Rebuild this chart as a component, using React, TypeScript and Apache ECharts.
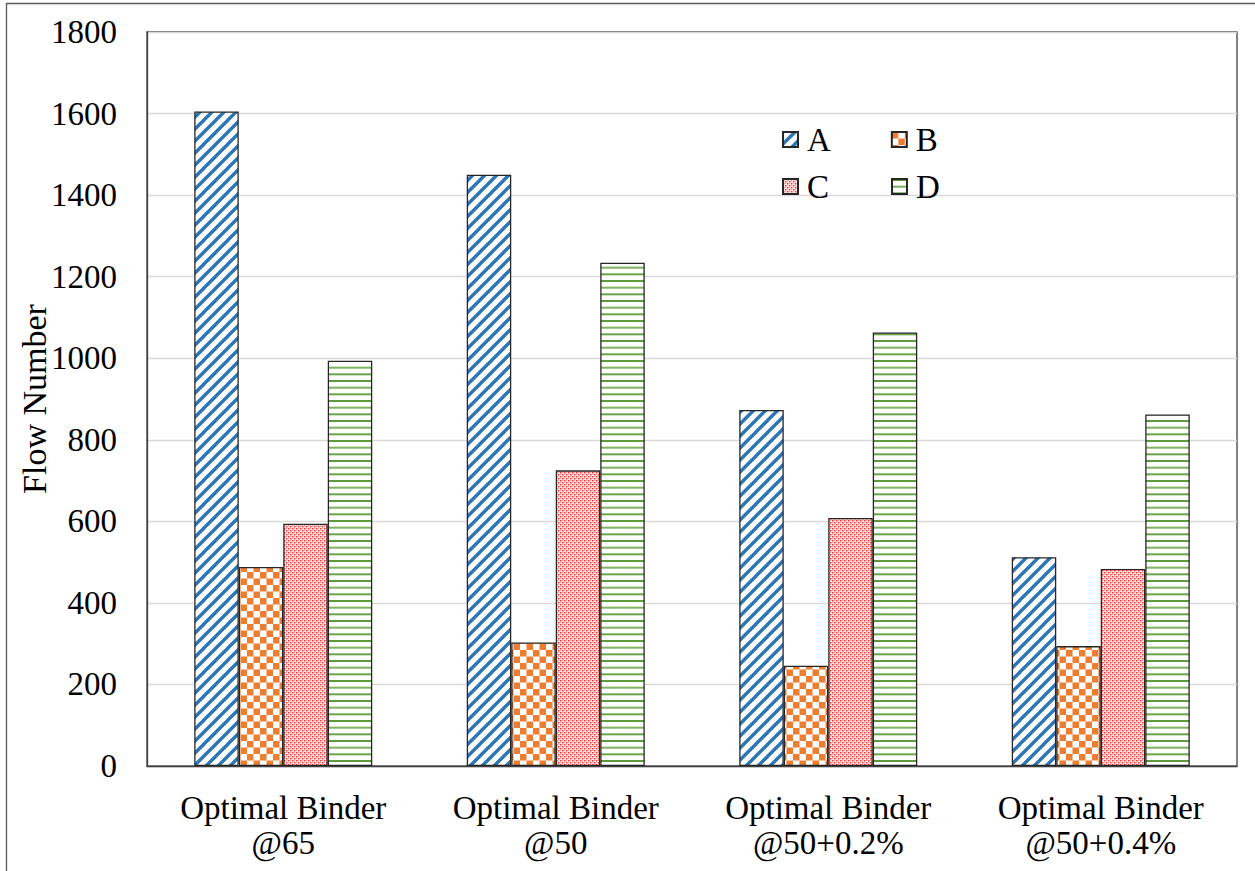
import React, { useEffect, useRef } from 'react';
import * as echarts from 'echarts';

const categories = [
  'Optimal Binder\n@65',
  'Optimal Binder\n@50',
  'Optimal Binder\n@50+0.2%',
  'Optimal Binder\n@50+0.4%',
];
const seriesNames = ['A', 'B', 'C', 'D'];
const valuesA = [1605, 1450, 873, 512];
const valuesB = [488, 303, 246, 294];
const valuesC = [594, 725, 608, 483];
const valuesD = [994, 1234, 1063, 862];
const yMin = 0;
const yMax = 1800;
const yInterval = 200;
const yAxisName = 'Flow Number';

const FONT = "'Liberation Serif', 'Times New Roman', serif";
const FS = 33;

function makeTile(w: number, h: number, draw: (ctx: CanvasRenderingContext2D) => void) {
  const c = document.createElement('canvas');
  c.width = w;
  c.height = h;
  const ctx = c.getContext('2d') as CanvasRenderingContext2D;
  draw(ctx);
  return { image: c.toDataURL(), repeat: 'repeat', imageWidth: w, imageHeight: h } as any;
}

function buildPatterns() {
  const diag = makeTile(12, 12, (ctx) => {
    ctx.fillStyle = '#ffffff';
    ctx.fillRect(0, 0, 12, 12);
    ctx.strokeStyle = '#2E75B6';
    ctx.lineWidth = 3.4;
    for (const k of [-12, 0, 12]) {
      ctx.beginPath();
      ctx.moveTo(k - 2, 12 + 2);
      ctx.lineTo(k + 12 + 2, -2);
      ctx.stroke();
    }
  });
  const checker = makeTile(13, 13, (ctx) => {
    ctx.fillStyle = '#ffffff';
    ctx.fillRect(0, 0, 13, 13);
    ctx.fillStyle = '#ED7D31';
    ctx.fillRect(0, 0, 6.5, 6.5);
    ctx.fillRect(6.5, 6.5, 6.5, 6.5);
  });
  const dots = makeTile(4, 4, (ctx) => {
    ctx.fillStyle = '#fde6e6';
    ctx.fillRect(0, 0, 4, 4);
    ctx.fillStyle = '#ff2a2a';
    ctx.fillRect(0, 0, 1.4, 1.4);
    ctx.fillRect(2, 2, 1.4, 1.4);
    ctx.fillStyle = '#ffa8a8';
    ctx.fillRect(2, 0, 1, 1);
    ctx.fillRect(0, 2, 1, 1);
  });
  const hlines = makeTile(4, 20, (ctx) => {
    ctx.fillStyle = '#ffffff';
    ctx.fillRect(0, 0, 4, 20);
    ctx.fillStyle = '#5f9a3c';
    ctx.fillRect(0, 0, 4, 2);
    ctx.fillStyle = '#7fb15e';
    ctx.fillRect(0, 6.67, 4, 2);
    ctx.fillStyle = '#6aa348';
    ctx.fillRect(0, 13.33, 4, 2);
  });
  return [diag, checker, dots, hlines];
}

export default function App() {
  const ref = useRef<HTMLDivElement>(null);
  useEffect(() => {
    if (!ref.current) return;
    const chart = echarts.init(ref.current, null, { renderer: 'svg' });
    const patterns = buildPatterns();
    const values = [valuesA, valuesB, valuesC, valuesD];
    const legendCommon = {
      orient: 'horizontal',
      itemWidth: 15,
      itemHeight: 15,
      icon: 'rect',
      textStyle: { fontFamily: FONT, fontSize: FS, color: '#000', padding: [0, 0, 0, 4] },
      padding: 0,
    };
    chart.setOption({
      animation: false,
      backgroundColor: '#ffffff',
      textStyle: { fontFamily: FONT },
      graphic: [
        {
          type: 'rect',
          shape: { x: 6.5, y: 3.5, width: 1300, height: 1000 },
          style: { fill: 'none', stroke: '#595959', lineWidth: 1.3 },
          silent: true,
        },
      ],
      legend: [
        { ...legendCommon, itemGap: 60, data: [seriesNames[0], seriesNames[1]], left: 782, top: 123 },
        { ...legendCommon, itemGap: 62, data: [seriesNames[2], seriesNames[3]], left: 782, top: 170 },
      ],
      grid: {
        left: 147,
        top: 32,
        right: 18,
        bottom: 105,
        show: true,
        borderColor: '#404040',
        borderWidth: 1.3,
        containLabel: false,
        outerBoundsMode: 'none',
      },
      xAxis: {
        type: 'category',
        data: categories,
        axisLine: { show: true, lineStyle: { color: '#404040', width: 1.3 } },
        axisTick: { show: false },
        axisLabel: {
          fontFamily: FONT,
          fontSize: FS,
          color: '#000',
          lineHeight: 35,
          margin: 24,
          interval: 0,
        },
      },
      yAxis: {
        type: 'value',
        min: yMin,
        max: yMax,
        interval: yInterval,
        name: yAxisName,
        nameLocation: 'middle',
        nameGap: 96,
        nameMoveOverlap: false,
        nameTextStyle: { fontFamily: FONT, fontSize: 34, color: '#000' },
        axisLine: { show: true, lineStyle: { color: '#404040', width: 1.3 } },
        axisTick: { show: false },
        axisLabel: {
          fontFamily: FONT,
          fontSize: FS,
          color: '#000',
          margin: 30,
          formatter: (v: number) => String(v),
        },
        splitLine: { show: true, lineStyle: { color: '#d9d9d9', width: 1.3 } },
      },
      series: seriesNames.map((name, i) => ({
        name,
        type: 'bar',
        data: values[i],
        barWidth: 44.5,
        barGap: '0%',
        itemStyle: {
          color: patterns[i],
          borderColor: '#262626',
          borderWidth: 1.3,
        },
      })),
    });
    return () => chart.dispose();
  }, []);
  return (
    <div
      ref={ref}
      style={{ position: 'fixed', left: 0, top: 0, width: 1255, height: 871 }}
    />
  );
}
